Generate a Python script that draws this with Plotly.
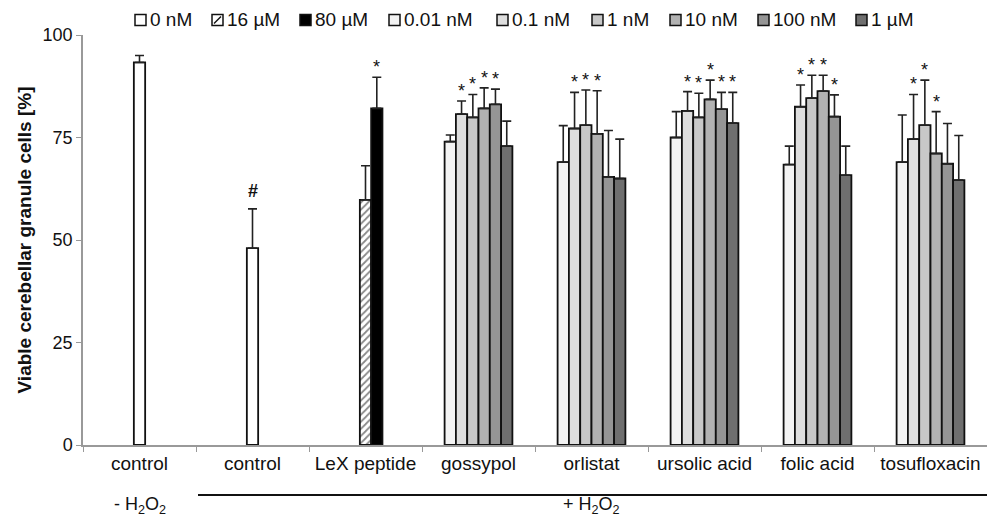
import plotly.graph_objects as go

# ---------------- data ----------------
cat_keys = ["control_minus", "control_plus", "LeX peptide", "gossypol",
            "orlistat", "ursolic acid", "folic acid", "tosufloxacin"]
cat_labels = ["control", "control", "LeX peptide", "gossypol",
              "orlistat", "ursolic acid", "folic acid", "tosufloxacin"]
compounds = ["gossypol", "orlistat", "ursolic acid", "folic acid", "tosufloxacin"]

control_vals = [93.3, 48.0]
control_err = [1.7, 9.6]
lex16_val, lex16_err = 59.8, 8.3
lex80_val, lex80_err = 82.1, 7.6

conc_names = ["0.01 nM", "0.1 nM", "1 nM", "10 nM", "100 nM", "1 µM"]
conc_vals = [
    [74.0, 69.0, 75.0, 68.4, 69.0],
    [80.7, 77.2, 81.5, 82.5, 74.6],
    [79.9, 78.0, 79.9, 84.6, 78.0],
    [82.1, 75.9, 84.3, 86.3, 71.1],
    [83.1, 65.4, 81.9, 80.1, 68.6],
    [72.9, 65.0, 78.5, 65.8, 64.6],
]
conc_errs = [
    [1.6, 8.9, 6.3, 4.5, 11.5],
    [3.2, 8.8, 4.7, 5.3, 10.9],
    [5.6, 8.6, 5.9, 5.6, 11.0],
    [5.0, 10.5, 4.7, 3.9, 10.2],
    [3.7, 11.3, 4.1, 5.3, 9.8],
    [6.1, 9.6, 7.5, 7.1, 10.9],
]
conc_stars = [
    [0, 0, 0, 0, 0],
    [1, 1, 1, 1, 1],
    [1, 1, 1, 1, 1],
    [1, 1, 1, 1, 1],
    [1, 0, 1, 1, 0],
    [0, 0, 1, 0, 0],
]
conc_colors = ["#f3f3f3", "#dedede", "#c8c8c8", "#b2b2b2", "#959595", "#6f6f6f"]

legend_names = ["0 nM", "16 µM", "80 µM"] + conc_names
legend_colors = ["white", "white", "#000000"] + conc_colors

# ---------------- layout constants ----------------
FONT = "Arial, 'Liberation Sans', sans-serif"
W_PX, H_PX = 987, 531
ML, MR, MT, MB = 83, 0, 35, 86
PW, PH = W_PX - ML - MR, H_PX - MT - MB
W = 0.1
LINE = dict(color="#111111", width=1.8)


def px_x(px):
    return (px - ML) / PW


def px_y(py):
    return (H_PX - MB - py) / PH


def err(vals):
    return dict(type="data", array=vals, arrayminus=[0] * len(vals), symmetric=False,
                color="#222222", thickness=1.6, width=4.5)


fig = go.Figure()

fig.add_trace(go.Bar(
    name="0 nM", x=cat_keys[:2], y=control_vals, width=W, offset=-0.05,
    marker=dict(color="white", line=LINE), error_y=err(control_err)))
fig.add_trace(go.Bar(
    name="16 µM", x=["LeX peptide"], y=[lex16_val], width=W, offset=-0.05,
    marker=dict(color="white", line=LINE,
                pattern=dict(shape="/", fgcolor="#111111", bgcolor="white",
                             size=5, solidity=0.35)),
    error_y=err([lex16_err])))
fig.add_trace(go.Bar(
    name="80 µM", x=["LeX peptide"], y=[lex80_val], width=W, offset=0.05,
    marker=dict(color="#000000", line=LINE), error_y=err([lex80_err])))

for i, name in enumerate(conc_names):
    fig.add_trace(go.Bar(
        name=name, x=compounds, y=conc_vals[i], width=W, offset=-0.3 + 0.1 * i,
        marker=dict(color=conc_colors[i], line=LINE), error_y=err(conc_errs[i])))

annotations = []
star_font = dict(size=18, color="#111111", family=FONT)
for i in range(len(conc_names)):
    for j, comp in enumerate(compounds):
        if conc_stars[i][j]:
            xi = cat_keys.index(comp) - 0.25 + 0.1 * i
            annotations.append(dict(x=xi, y=conc_vals[i][j] + conc_errs[i][j], xref="x", yref="y",
                                    text="*", showarrow=False, yanchor="bottom", yshift=-2,
                                    font=star_font))
annotations.append(dict(x=cat_keys.index("LeX peptide") + 0.1, y=lex80_val + lex80_err,
                        xref="x", yref="y", text="*", showarrow=False, yanchor="bottom",
                        yshift=-2, font=star_font))
annotations.append(dict(x=1, y=control_vals[1] + control_err[1], xref="x", yref="y",
                        text="<b>#</b>", showarrow=False, yanchor="bottom", yshift=6,
                        font=dict(size=18, color="#111111", family=FONT)))
# group labels below the axis
annotations.append(dict(x=0, y=px_y(519), xref="x", yref="paper",
                        text="- H<sub>2</sub>O<sub>2</sub>", showarrow=False,
                        font=dict(size=18, color="#111111", family=FONT)))
annotations.append(dict(x=4, y=px_y(519), xref="x", yref="paper",
                        text="+ H<sub>2</sub>O<sub>2</sub>", showarrow=False,
                        font=dict(size=18, color="#111111", family=FONT)))

shapes = [dict(type="line", xref="paper", yref="paper", x0=px_x(198), x1=1.0,
               y0=px_y(495), y1=px_y(495), line=dict(color="#111111", width=2))]

# legend (drawn manually to follow the reference spacing)
legend_left_px = [135, 212, 300, 389, 497, 592, 670, 758, 856]
LEG_Y, SQ = 20, 11
for k, name in enumerate(legend_names):
    x0 = legend_left_px[k]
    shapes.append(dict(type="rect", xref="paper", yref="paper",
                       x0=px_x(x0), x1=px_x(x0 + SQ), y0=px_y(LEG_Y + SQ / 2), y1=px_y(LEG_Y - SQ / 2),
                       fillcolor=legend_colors[k], line=dict(color="#111111", width=1.5)))
    if name == "16 µM":
        shapes.append(dict(type="line", xref="paper", yref="paper",
                           x0=px_x(x0 + 2), x1=px_x(x0 + SQ - 2),
                           y0=px_y(LEG_Y + SQ / 2 - 2), y1=px_y(LEG_Y - SQ / 2 + 2),
                           line=dict(color="#111111", width=1.5)))
    annotations.append(dict(x=px_x(x0 + SQ + 2), y=px_y(LEG_Y), xref="paper", yref="paper",
                            text=name, showarrow=False, xanchor="left", yanchor="middle",
                            font=dict(size=19, color="#111111", family=FONT)))

fig.update_layout(
    width=W_PX, height=H_PX,
    margin=dict(l=ML, r=MR, t=MT, b=MB, autoexpand=False),
    paper_bgcolor="white", plot_bgcolor="white",
    barmode="overlay",
    font=dict(family=FONT, color="#111111", size=16),
    showlegend=False,
    annotations=annotations,
    shapes=shapes,
)
fig.update_xaxes(
    type="category", categoryorder="array", categoryarray=cat_keys,
    tickmode="array", tickvals=cat_keys, ticktext=cat_labels,
    range=[-0.5, 7.5], tickson="boundaries", ticks="outside", ticklen=5,
    tickcolor="#999999", showline=True, linecolor="#999999", linewidth=1.5,
    showgrid=False, zeroline=False, automargin=False,
    tickfont=dict(size=19, family=FONT, color="#111111"))
fig.update_yaxes(
    range=[0, 100], tickvals=[0, 25, 50, 75, 100], ticks="outside", ticklen=5,
    tickcolor="#999999", showline=True, linecolor="#999999", linewidth=1.5,
    showgrid=False, zeroline=False, automargin=False,
    tickfont=dict(size=18, family=FONT, color="#111111"),
    title=dict(text="<b>Viable cerebellar granule cells [%]</b>",
               font=dict(size=19, family=FONT, color="#111111"), standoff=6))

fig.write_html("out.html", config={"displayModeBar": False},
               post_script="document.body.style.margin='0';document.body.style.padding='0';")
